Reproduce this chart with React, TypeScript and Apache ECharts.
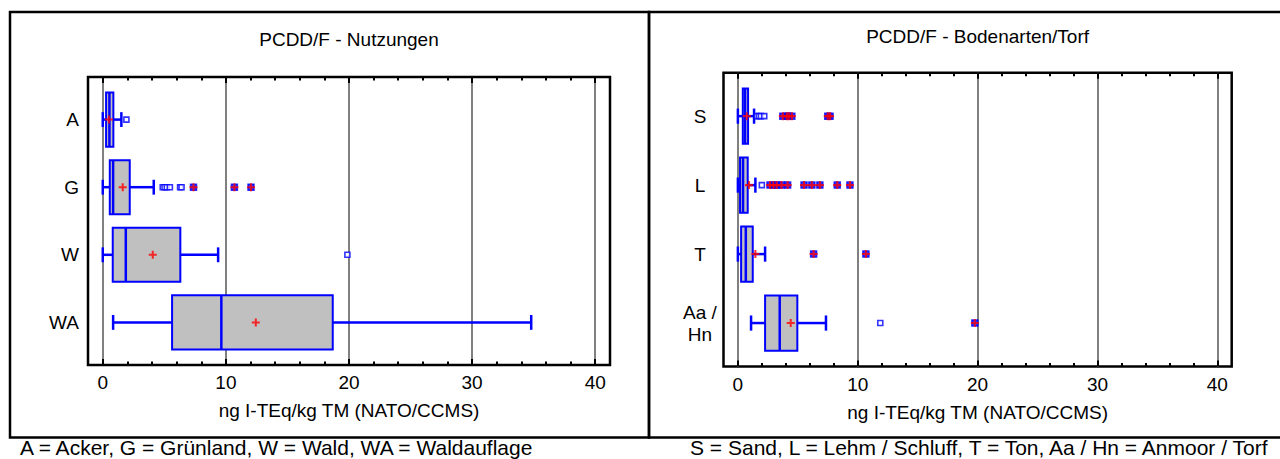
import React, { useEffect, useRef } from "react";
import * as echarts from "echarts";

// ---------- data: PCDD/F - Nutzungen ----------
const nutzCategories = ["A", "G", "W", "WA"];
const nutzMin = [0.0, 0.0, 0.0, 0.84];
const nutzQ1 = [0.27, 0.57, 0.81, 5.63];
const nutzMedian = [0.54, 0.84, 1.87, 9.63];
const nutzQ3 = [0.86, 2.19, 6.3, 18.68];
const nutzMax = [1.51, 4.14, 9.37, 34.8];
const nutzMean = [0.5, 1.62, 4.06, 12.43];
const nutzOutside = [[1.92], [4.87, 5.02, 5.2, 5.45, 6.28, 6.4], [19.87], []];
const nutzFarOutside = [[], [7.37, 10.69, 12.04], [], []];

// ---------- data: PCDD/F - Bodenarten/Torf ----------
const bodenCategories = ["S", "L", "T", "Aa /\nHn"];
const bodenMin = [0.0, 0.0, 0.0, 1.1];
const bodenQ1 = [0.41, 0.18, 0.27, 2.27];
const bodenMedian = [0.6, 0.43, 0.66, 3.49];
const bodenQ3 = [0.85, 0.82, 1.24, 4.96];
const bodenMax = [1.35, 1.46, 2.27, 7.35];
const bodenMean = [0.74, 0.93, 1.46, 4.41];
const bodenOutside = [[1.58, 1.75, 1.92, 2.2], [2.0], [], [11.88]];
const bodenFarOutside = [
  [3.75, 4.08, 4.25, 4.5, 7.5, 7.69],
  [2.68, 2.96, 3.24, 3.64, 4.15, 5.52, 6.17, 6.84, 8.29, 9.35],
  [6.32, 10.68],
  [19.77],
];

// ---------- axis ticks / texts ----------
const majorTicks = [0, 10, 20, 30, 40];
const minorTicks = [2, 4, 6, 8, 12, 14, 16, 18, 22, 24, 26, 28, 32, 34, 36, 38];
const categoryPositions = [1, 2, 3, 4];
const xTitle = "ng I-TEq/kg TM (NATO/CCMS)";
const titleLeft = "PCDD/F - Nutzungen";
const titleRight = "PCDD/F - Bodenarten/Torf";
const footerLeft = "A = Acker, G = Grünland, W = Wald, WA = Waldauflage";
const footerRight = "S = Sand, L = Lehm / Schluff, T = Ton, Aa / Hn = Anmoor / Torf";

const FONT = "'Liberation Sans', Arial, Helvetica, sans-serif";
const BLUE = "#0000ff";
const RED = "#ff0000";
const PLUS = "path://M2.6,0H4.4V2.6H7V4.4H4.4V7H2.6V4.4H0V2.6H2.6Z";

const renderBox = (_params: any, api: any) => {
  const cat = api.value(5);
  const lo = api.coord([api.value(0), cat]);
  const q1 = api.coord([api.value(1), cat]);
  const md = api.coord([api.value(2), cat]);
  const q3 = api.coord([api.value(3), cat]);
  const hi = api.coord([api.value(4), cat]);
  const half = Math.abs(api.size([0, 0.4])[1]);
  const cap = Math.abs(api.size([0, 0.11])[1]);
  const y = lo[1];
  const ls = { stroke: BLUE, lineWidth: 2.5, fill: null };
  return {
    type: "group",
    children: [
      { type: "line", shape: { x1: lo[0], y1: y, x2: q1[0], y2: y }, style: ls },
      { type: "line", shape: { x1: q3[0], y1: y, x2: hi[0], y2: y }, style: ls },
      { type: "line", shape: { x1: lo[0], y1: y - cap, x2: lo[0], y2: y + cap }, style: ls },
      { type: "line", shape: { x1: hi[0], y1: y - cap, x2: hi[0], y2: y + cap }, style: ls },
      {
        type: "rect",
        shape: { x: q1[0], y: y - half, width: q3[0] - q1[0], height: 2 * half },
        style: { fill: "#c0c0c0", stroke: BLUE, lineWidth: 2 },
      },
      {
        type: "line",
        shape: { x1: md[0], y1: y - half, x2: md[0], y2: y + half },
        style: { stroke: BLUE, lineWidth: 2.5 },
      },
    ],
  };
};

function panelSeries(
  xi: number,
  yi: number,
  mins: number[],
  q1s: number[],
  meds: number[],
  q3s: number[],
  maxs: number[],
  means: number[],
  outside: number[][],
  far: number[][]
) {
  const boxData = mins.map((_, i) => [mins[i], q1s[i], meds[i], q3s[i], maxs[i], i + 1]);
  const outData: number[][] = [];
  outside.forEach((arr, i) => arr.forEach((v) => outData.push([v, i + 1])));
  const farData: number[][] = [];
  far.forEach((arr, i) => arr.forEach((v) => farData.push([v, i + 1])));
  const meanData = means.map((v, i) => [v, i + 1]);
  return [
    {
      type: "custom",
      xAxisIndex: xi,
      yAxisIndex: yi,
      renderItem: renderBox,
      data: boxData,
      encode: { x: [0, 1, 2, 3, 4], y: 5 },
      silent: true,
      z: 2,
    },
    {
      type: "scatter",
      xAxisIndex: xi,
      yAxisIndex: yi,
      data: outData,
      symbol: "rect",
      symbolSize: 5,
      itemStyle: { color: "#ffffff", borderColor: BLUE, borderWidth: 1.6 },
      silent: true,
      z: 3,
    },
    {
      type: "scatter",
      xAxisIndex: xi,
      yAxisIndex: yi,
      data: farData,
      symbol: "rect",
      symbolSize: 6,
      itemStyle: { color: BLUE, borderColor: BLUE, borderWidth: 1.5 },
      silent: true,
      z: 3,
    },
    {
      type: "scatter",
      xAxisIndex: xi,
      yAxisIndex: yi,
      data: farData,
      symbol: PLUS,
      symbolSize: 8,
      itemStyle: { color: RED },
      silent: true,
      z: 4,
    },
    {
      type: "scatter",
      xAxisIndex: xi,
      yAxisIndex: yi,
      data: meanData,
      symbol: PLUS,
      symbolSize: 8,
      itemStyle: { color: RED },
      silent: true,
      z: 5,
    },
  ];
}

function xAxes(gridIndex: number, nameGap: number) {
  const base = { type: "value", gridIndex, min: -1.2, max: 41.2 };
  const hidden = { show: false };
  return [
    {
      ...base,
      position: "bottom",
      name: xTitle,
      nameLocation: "middle",
      nameGap,
      nameTextStyle: { fontSize: 19, color: "#000", fontFamily: FONT },
      axisLine: hidden,
      axisTick: {
        show: true,
        inside: true,
        length: 6,
        customValues: majorTicks,
        lineStyle: { color: "#000", width: 2 },
      },
      axisLabel: {
        show: true,
        customValues: majorTicks,
        margin: 8,
        fontSize: 19,
        color: "#000",
        fontFamily: FONT,
      },
      splitLine: { show: true, lineStyle: { color: "#808080", width: 2 } },
    },
    {
      ...base,
      position: "bottom",
      axisLine: hidden,
      axisLabel: hidden,
      splitLine: hidden,
      axisTick: {
        show: true,
        inside: true,
        length: 3.5,
        customValues: minorTicks,
        lineStyle: { color: "#000", width: 2 },
      },
    },
    {
      ...base,
      position: "top",
      axisLine: hidden,
      axisLabel: hidden,
      splitLine: hidden,
      axisTick: {
        show: true,
        inside: true,
        length: 6,
        customValues: majorTicks,
        lineStyle: { color: "#000", width: 2 },
      },
    },
    {
      ...base,
      position: "top",
      axisLine: hidden,
      axisLabel: hidden,
      splitLine: hidden,
      axisTick: {
        show: true,
        inside: true,
        length: 3.5,
        customValues: minorTicks,
        lineStyle: { color: "#000", width: 2 },
      },
    },
  ];
}

function yAxis(gridIndex: number, cats: string[], align: string, margin: number) {
  return {
    type: "value",
    gridIndex,
    inverse: true,
    min: 0.37,
    max: 4.63,
    axisLine: { show: false },
    axisTick: { show: false },
    splitLine: { show: false },
    axisLabel: {
      show: true,
      customValues: categoryPositions,
      formatter: (v: number) => cats[Math.round(v) - 1] ?? "",
      align,
      margin,
      fontSize: 19,
      lineHeight: 22,
      color: "#000",
      fontFamily: FONT,
    },
  };
}

export default function App() {
  const ref = useRef<HTMLDivElement>(null);

  useEffect(() => {
    document.body.style.margin = "0";
    if (!ref.current) return;
    const chart = echarts.init(ref.current, undefined, { renderer: "svg" });
    const option: any = {
      animation: false,
      backgroundColor: "#ffffff",
      grid: [
        {
          left: 88,
          top: 77,
          right: 670,
          bottom: 94,
          show: true,
          borderColor: "#000",
          borderWidth: 2.5,
          backgroundColor: "transparent",
          containLabel: false,
          outerBoundsMode: "none",
        },
        {
          left: 723.5,
          top: 72.7,
          right: 48.3,
          bottom: 92.5,
          show: true,
          borderColor: "#000",
          borderWidth: 2.5,
          backgroundColor: "transparent",
          containLabel: false,
          outerBoundsMode: "none",
        },
      ],
      xAxis: [...xAxes(0, 36), ...xAxes(1, 36)],
      yAxis: [yAxis(0, nutzCategories, "right", 9), yAxis(1, bodenCategories, "center", 23.5)],
      series: [
        ...panelSeries(0, 0, nutzMin, nutzQ1, nutzMedian, nutzQ3, nutzMax, nutzMean, nutzOutside, nutzFarOutside),
        ...panelSeries(4, 1, bodenMin, bodenQ1, bodenMedian, bodenQ3, bodenMax, bodenMean, bodenOutside, bodenFarOutside),
      ],
      graphic: [
        {
          type: "rect",
          shape: { x: 10, y: 12, width: 639, height: 425.5 },
          style: { fill: "none", stroke: "#000", lineWidth: 2.5 },
          silent: true,
          z: 0,
        },
        {
          type: "rect",
          shape: { x: 649, y: 12, width: 660, height: 425.5 },
          style: { fill: "none", stroke: "#000", lineWidth: 2.5 },
          silent: true,
          z: 0,
        },
        {
          type: "text",
          x: 349,
          y: 39,
          style: { text: titleLeft, fontSize: 19, fontFamily: FONT, fill: "#000", align: "center", verticalAlign: "middle" },
          silent: true,
        },
        {
          type: "text",
          x: 977.6,
          y: 36,
          style: { text: titleRight, fontSize: 19, fontFamily: FONT, fill: "#000", align: "center", verticalAlign: "middle" },
          silent: true,
        },
        {
          type: "text",
          x: 20,
          y: 447,
          style: { text: footerLeft, fontSize: 21, fontFamily: FONT, fill: "#000", align: "left", verticalAlign: "middle" },
          silent: true,
        },
        {
          type: "text",
          x: 690,
          y: 447,
          style: { text: footerRight, fontSize: 21, fontFamily: FONT, fill: "#000", align: "left", verticalAlign: "middle" },
          silent: true,
        },
      ],
    };
    chart.setOption(option);
    return () => chart.dispose();
  }, []);

  return (
    <div
      ref={ref}
      style={{ position: "absolute", left: 0, top: 0, width: 1280, height: 459, background: "#fff" }}
    />
  );
}
